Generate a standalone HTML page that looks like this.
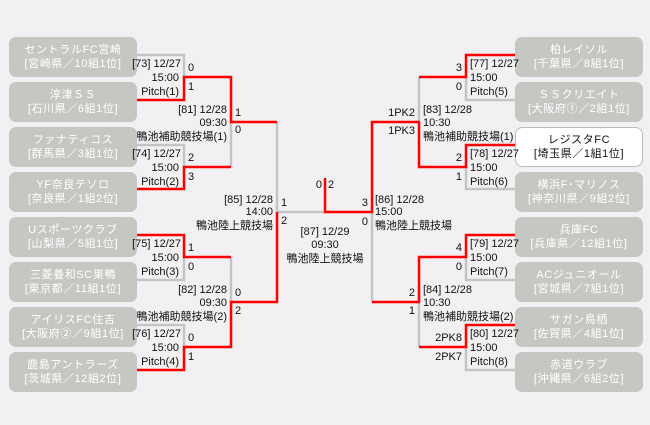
<!DOCTYPE html>
<html><head><meta charset="utf-8"><style>
html,body{margin:0;padding:0;background:#f2f0f3;}
svg{display:block}
text{font-family:"Liberation Sans","Noto Sans CJK JP",sans-serif;font-size:11px;fill:#111;dominant-baseline:central}
.b{fill:#fff;text-anchor:middle;letter-spacing:0.6px}
.bb{fill:#111;text-anchor:middle;letter-spacing:0.6px}
.r{text-anchor:end}
.m{text-anchor:middle}
</style></head><body>
<svg width="650" height="425" viewBox="0 0 650 425" xmlns="http://www.w3.org/2000/svg">
<rect width="650" height="425" fill="#f2f0f3"/>
<line x1="0" y1="9" x2="650" y2="9" stroke="#fff" stroke-dasharray="1 3"/>
<g fill="#c5c7c3">
<rect x="9" y="37" width="128" height="40" rx="7"/>
<rect x="9" y="82" width="128" height="40" rx="7"/>
<rect x="9" y="127" width="128" height="40" rx="7"/>
<rect x="9" y="172" width="128" height="40" rx="7"/>
<rect x="9" y="217" width="128" height="40" rx="7"/>
<rect x="9" y="262" width="128" height="40" rx="7"/>
<rect x="9" y="307" width="128" height="40" rx="7"/>
<rect x="9" y="352" width="128" height="40" rx="7"/>
<rect x="515" y="37" width="128" height="40" rx="7"/>
<rect x="515" y="82" width="128" height="40" rx="7"/>
<rect x="515" y="172" width="128" height="40" rx="7"/>
<rect x="515" y="217" width="128" height="40" rx="7"/>
<rect x="515" y="262" width="128" height="40" rx="7"/>
<rect x="515" y="307" width="128" height="40" rx="7"/>
<rect x="515" y="352" width="128" height="40" rx="7"/>
</g>
<rect x="515.5" y="127.5" width="127" height="39" rx="7" fill="#fff" stroke="#bbb"/>

<g stroke="#c4c4c4" stroke-width="2.5" fill="none">
<polyline points="137,55 184,55 184,77"/>
<polyline points="137,145 184,145 184,167"/>
<polyline points="137,280 184,280 184,257"/>
<polyline points="137,325 184,325 184,347"/>
<polyline points="231,122 231,167"/>
<polyline points="231,257 231,302"/>
<polyline points="277,122 277,212"/>
<polyline points="277,212 325,212"/>
<polyline points="515,100 466,100 466,77"/>
<polyline points="515,189 466,189 466,167"/>
<polyline points="515,280 466,280 466,257"/>
<polyline points="515,370 466,370 466,347"/>
<polyline points="419,77 419,122"/>
<polyline points="419,302 419,347"/>
<polyline points="372,212 372,302"/>
</g>
<g stroke="#f00" stroke-width="2.5" fill="none">
<polyline points="137,100 184,100 184,77 231,77 231,122 277,122"/>
<polyline points="137,189 184,189 184,167 231,167"/>
<polyline points="137,235 184,235 184,257 231,257"/>
<polyline points="137,370 184,370 184,347 231,347 231,302 277,302 277,212"/>
<polyline points="325,178 325,212 372,212 372,122 419,122 419,167 466,167 466,145 515,145"/>
<polyline points="515,55 466,55 466,77 419,77"/>
<polyline points="515,235 466,235 466,257 419,257 419,302 372,302"/>
<polyline points="515,325 466,325 466,347 419,347"/>
</g>

<text class="b" x="73" y="50">セントラルFC宮崎</text><text class="b" x="73" y="64">[宮崎県／10組1位]</text>
<text class="b" x="73" y="95">淳津ＳＳ</text><text class="b" x="73" y="109">[石川県／6組1位]</text>
<text class="b" x="73" y="140">ファナティコス</text><text class="b" x="73" y="154">[群馬県／3組1位]</text>
<text class="b" x="73" y="185">YF奈良テソロ</text><text class="b" x="73" y="199">[奈良県／1組2位]</text>
<text class="b" x="73" y="230">Uスポーツクラブ</text><text class="b" x="73" y="244">[山梨県／5組1位]</text>
<text class="b" x="73" y="275">三菱養和SC巣鴨</text><text class="b" x="73" y="289">[東京都／11組1位]</text>
<text class="b" x="73" y="320">アイリスFC住吉</text><text class="b" x="73" y="334">[大阪府②／9組1位]</text>
<text class="b" x="73" y="365">鹿島アントラーズ</text><text class="b" x="73" y="379">[茨城県／12組2位]</text>
<text class="b" x="579" y="50">柏レイソル</text><text class="b" x="579" y="64">[千葉県／8組1位]</text>
<text class="b" x="579" y="95">ＳＳクリエイト</text><text class="b" x="579" y="109">[大阪府①／2組1位]</text>
<text class="bb" x="579" y="140">レジスタFC</text><text class="bb" x="579" y="154">[埼玉県／1組1位]</text>
<text class="b" x="579" y="185">横浜F･マリノス</text><text class="b" x="579" y="199">[神奈川県／9組2位]</text>
<text class="b" x="579" y="230">兵庫FC</text><text class="b" x="579" y="244">[兵庫県／12組1位]</text>
<text class="b" x="579" y="275">ACジュニオール</text><text class="b" x="579" y="289">[宮城県／7組1位]</text>
<text class="b" x="579" y="320">サガン鳥栖</text><text class="b" x="579" y="334">[佐賀県／4組1位]</text>
<text class="b" x="579" y="365">赤道ウラブ</text><text class="b" x="579" y="379">[沖縄県／6組2位]</text>

<text class="r" x="181" y="64">[73] 12/27</text><text class="r" x="179" y="78">15:00</text><text class="r" x="179" y="92">Pitch(1)</text>
<text x="188" y="68">0</text><text x="188" y="87">1</text>
<text class="r" x="181" y="154">[74] 12/27</text><text class="r" x="179" y="168">15:00</text><text class="r" x="179" y="182">Pitch(2)</text>
<text x="188" y="158">2</text><text x="188" y="177">3</text>
<text class="r" x="181" y="244">[75] 12/27</text><text class="r" x="179" y="258">15:00</text><text class="r" x="179" y="272">Pitch(3)</text>
<text x="188" y="248">1</text><text x="188" y="267">0</text>
<text class="r" x="181" y="334">[76] 12/27</text><text class="r" x="179" y="348">15:00</text><text class="r" x="179" y="362">Pitch(4)</text>
<text x="188" y="338">0</text><text x="188" y="357">1</text>
<text class="r" x="227" y="110">[81] 12/28</text><text class="r" x="227" y="123">09:30</text><text class="r" x="227" y="137">鴨池補助競技場(1)</text>
<text x="235" y="113">1</text><text x="235" y="130">0</text>
<text class="r" x="227" y="290">[82] 12/28</text><text class="r" x="227" y="303">09:30</text><text class="r" x="227" y="317">鴨池補助競技場(2)</text>
<text x="235" y="293">0</text><text x="235" y="311">2</text>
<text class="r" x="273" y="200">[85] 12/28</text><text class="r" x="273" y="212">14:00</text><text class="r" x="273" y="226">鴨池陸上競技場</text>
<text x="281" y="203">1</text><text x="281" y="221">2</text>
<text class="r" x="368" y="203">3</text><text class="r" x="368" y="222">0</text>
<text x="375" y="200">[86] 12/28</text><text x="375" y="212">15:00</text><text x="375" y="226">鴨池陸上競技場</text>
<text class="r" x="322" y="185">0</text><text x="328" y="185">2</text>
<text class="m" x="325" y="232">[87] 12/29</text><text class="m" x="325" y="245">09:30</text><text class="m" x="325" y="259">鴨池陸上競技場</text>
<text class="r" x="415" y="113">1PK2</text><text class="r" x="415" y="131">1PK3</text>
<text x="423" y="110">[83] 12/28</text><text x="423" y="123">10:30</text><text x="423" y="137">鴨池補助競技場(1)</text>
<text class="r" x="415" y="293">2</text><text class="r" x="415" y="311">1</text>
<text x="423" y="290">[84] 12/28</text><text x="423" y="303">10:30</text><text x="423" y="317">鴨池補助競技場(2)</text>
<text x="470" y="64">[77] 12/27</text><text x="470" y="78">15:00</text><text x="470" y="92">Pitch(5)</text>
<text class="r" x="462" y="68">3</text><text class="r" x="462" y="87">0</text>
<text x="470" y="154">[78] 12/27</text><text x="470" y="168">15:00</text><text x="470" y="182">Pitch(6)</text>
<text class="r" x="462" y="158">2</text><text class="r" x="462" y="177">1</text>
<text x="470" y="244">[79] 12/27</text><text x="470" y="258">15:00</text><text x="470" y="272">Pitch(7)</text>
<text class="r" x="462" y="248">4</text><text class="r" x="462" y="267">0</text>
<text x="470" y="334">[80] 12/27</text><text x="470" y="348">15:00</text><text x="470" y="362">Pitch(8)</text>
<text class="r" x="462" y="338">2PK8</text><text class="r" x="462" y="357">2PK7</text>
</svg>
</body></html>
